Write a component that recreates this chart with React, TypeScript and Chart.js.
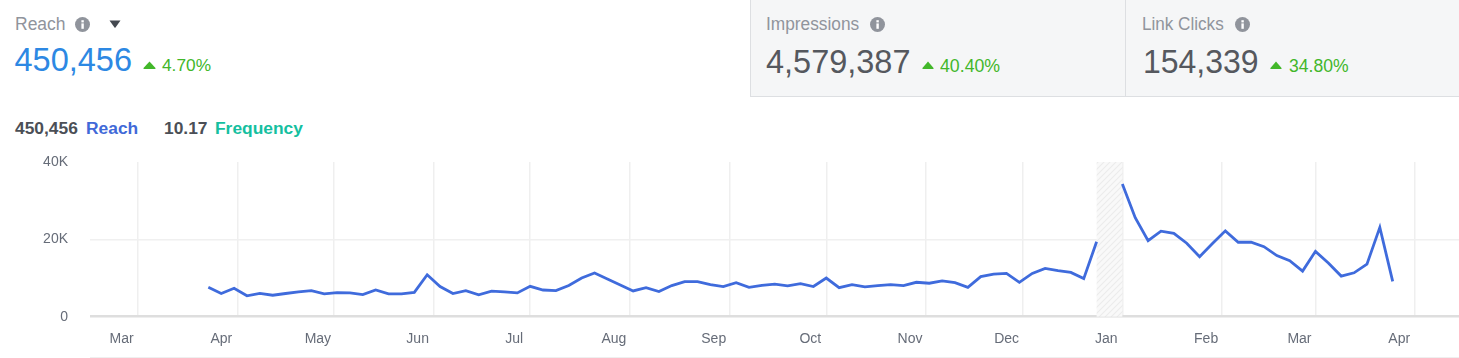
import React, { useEffect, useRef } from "react";
import { Chart, registerables } from "chart.js";

Chart.register(...registerables);

const firstPointDay = 22;
const pointStepDays = 4;
const reachValues: (number | null)[] = [
  7600, 6000, 7350, 5400, 6050, 5550, 6000, 6400, 6750, 5900, 6250, 6150, 5700, 6900, 5900, 5900,
  6300, 10850, 7800, 6000, 6750, 5650, 6600, 6400, 6150, 7850, 6900, 6750, 8050, 10000, 11300, 9750,
  8200, 6650, 7500, 6500, 8050, 9050, 9050, 8300, 7800, 8800, 7600, 8100, 8400, 7950, 8550, 7800,
  10000, 7500, 8300, 7700, 8050, 8300, 8050, 8900, 8650, 9250, 8800, 7600, 10350, 11000, 11200, 8900,
  11200, 12500, 11900, 11450, 9850, 19400, null, 34300, 25600, 19650, 22100, 21550, 19000, 15500, 18900, 22200,
  19250, 19250, 18100, 15800, 14500, 11800, 16900, 13900, 10500, 11350, 13600, 23100, 9150,
];
const monthDays = [0, 31, 61, 92, 122, 153, 184, 214, 245, 275, 306, 337, 366, 397];
const monthLabels = ["Mar", "Apr", "May", "Jun", "Jul", "Aug", "Sep", "Oct", "Nov", "Dec", "Jan", "Feb", "Mar", "Apr"];
const yTicks = [0, 20000, 40000];
const hatchRange = [298, 306];

const sans = '"Liberation Sans", Arial, sans-serif';

const hatchPlugin = {
  id: "hatchBand",
  beforeDatasetsDraw(chart: any) {
    const { ctx, scales, chartArea } = chart;
    const x0 = scales.x.getPixelForValue(hatchRange[0]);
    const x1 = scales.x.getPixelForValue(hatchRange[1]);
    const p = document.createElement("canvas");
    p.width = 6;
    p.height = 6;
    const c = p.getContext("2d")!;
    c.fillStyle = "#f9f9f9";
    c.fillRect(0, 0, 6, 6);
    c.strokeStyle = "#ececec";
    c.lineWidth = 1.2;
    c.beginPath();
    c.moveTo(-1, 7);
    c.lineTo(7, -1);
    c.moveTo(-1, 1);
    c.lineTo(1, -1);
    c.moveTo(5, 7);
    c.lineTo(7, 5);
    c.stroke();
    ctx.save();
    ctx.fillStyle = ctx.createPattern(p, "repeat");
    ctx.fillRect(x0, chartArea.top, x1 - x0, chartArea.bottom - chartArea.top);
    ctx.restore();
  },
};

function Info({ x, y }: { x: number; y: number }) {
  return (
    <svg width="15" height="15" viewBox="0 0 15 15" style={{ position: "absolute", left: x, top: y }}>
      <circle cx="7.5" cy="7.5" r="7.5" fill="#90949c" />
      <rect x="6.4" y="6.4" width="2.4" height="5.4" fill="#fff" />
      <rect x="6.4" y="3.2" width="2.4" height="2.2" fill="#fff" />
    </svg>
  );
}

function Up({ x, y, w = 13 }: { x: number; y: number; w?: number }) {
  return (
    <svg width={w} height="8" viewBox="0 0 13 8" preserveAspectRatio="none" style={{ position: "absolute", left: x, top: y }}>
      <path d="M6.5 0.5 L12.5 7 Q12.8 8 12 8 L1 8 Q0.2 8 0.5 7 Z" fill="#42b72a" />
    </svg>
  );
}

function T(props: { x: number; y: number; size: number; color: string; bold?: boolean; sx?: number; children: React.ReactNode }) {
  const { x, y, size, color, bold, sx = 1, children } = props;
  return (
    <div
      style={{
        position: "absolute",
        left: x,
        top: y,
        fontFamily: sans,
        fontSize: size,
        lineHeight: "1",
        color,
        fontWeight: bold ? 700 : 400,
        whiteSpace: "nowrap",
        transform: `scaleX(${sx})`,
        transformOrigin: "left top",
      }}
    >
      {children}
    </div>
  );
}

export default function App() {
  const ref = useRef<HTMLCanvasElement>(null);

  useEffect(() => {
    document.body.style.margin = "0";
    const chart = new Chart(ref.current!, {
      type: "line",
      data: {
        datasets: [
          {
            label: "Reach",
            data: reachValues.map((v, i) => ({ x: firstPointDay + i * pointStepDays, y: v })) as any,
            borderColor: "#3f6bdc",
            borderWidth: 2.8,
            pointRadius: 0,
            tension: 0,
            spanGaps: false,
          },
        ],
      },
      options: {
        animation: false,
        responsive: false,
        maintainAspectRatio: false,
        layout: { padding: { top: 12, left: 0, right: 0, bottom: 0 } },
        plugins: { legend: { display: false }, tooltip: { enabled: false } },
        scales: {
          x: {
            type: "linear",
            min: -14.77,
            max: 410.6,
            afterBuildTicks(scale: any) {
              scale.ticks = monthDays.map((value) => ({ value }));
            },
            afterFit(scale: any) {
              scale.height = 41.3;
              scale.paddingLeft = 0;
              scale.paddingRight = 0;
            },
            grid: { color: "#efefef", lineWidth: 1.5, drawTicks: false },
            border: { display: false },
            ticks: {
              autoSkip: false,
              maxRotation: 0,
              padding: 14,
              labelOffset: -16,
              color: "#666c78",
              font: { family: sans, size: 14 },
              callback: (_v: any, i: number) => monthLabels[i],
            },
          },
          y: {
            type: "linear",
            min: yTicks[0],
            max: yTicks[2],
            afterBuildTicks(scale: any) {
              scale.ticks = yTicks.map((value) => ({ value }));
            },
            afterFit(scale: any) {
              scale.width = 90;
              scale.paddingTop = 0;
              scale.paddingBottom = 0;
            },
            grid: {
              color: (c: any) => (c.tick.value === 0 ? "#dedede" : c.tick.value === 40000 ? "rgba(0,0,0,0)" : "#f0f0f0"),
              lineWidth: (c: any) => (c.tick.value === 0 ? 2.5 : 1.5),
              drawTicks: false,
            },
            border: { display: false },
            ticks: {
              padding: 22,
              color: "#666c78",
              font: { family: sans, size: 14 },
              callback: (v: any) => (v === 0 ? "0" : `${v / 1000}K`),
            },
          },
        },
      },
      plugins: [hatchPlugin],
    } as any);
    return () => chart.destroy();
  }, []);

  return (
    <div style={{ position: "absolute", left: 0, top: 0, width: 1459, height: 358, overflow: "hidden", background: "#fff" }}>
      <div style={{ position: "absolute", left: 750, top: 0, width: 709, height: 97, background: "#f5f6f7", borderLeft: "1px solid #dddfe2", borderBottom: "1px solid #dddfe2", boxSizing: "border-box" }} />
      <div style={{ position: "absolute", left: 1125, top: 0, width: 1, height: 97, background: "#dddfe2" }} />

      <T x={15} y={16} size={17.5} color="#90949c">Reach</T>
      <Info x={75} y={17} />
      <svg width="12" height="8" style={{ position: "absolute", left: 109, top: 20 }}>
        <path d="M0.5 0.5 H11.5 L6.5 7.5 Q6 8 5.5 7.5 Z" fill="#444950" />
      </svg>
      <T x={14.5} y={44} size={32.5} color="#2d88e3">450,456</T>
      <Up x={143} y={61} />
      <T x={162} y={57} size={17.3} color="#42b72a">4.70%</T>

      <T x={766} y={15} size={18} sx={0.96} color="#90949c">Impressions</T>
      <Info x={870} y={17} />
      <T x={765.5} y={44} size={34} sx={0.955} color="#55585e">4,579,387</T>
      <Up x={922} y={61} w={12} />
      <T x={940} y={57} size={18} sx={0.985} color="#42b72a">40.40%</T>

      <T x={1142} y={15} size={18} sx={0.95} color="#90949c">Link Clicks</T>
      <Info x={1235} y={17} />
      <T x={1142.5} y={44} size={34} sx={0.94} color="#55585e">154,339</T>
      <Up x={1270} y={61} w={12} />
      <T x={1289} y={57} size={18} sx={0.975} color="#42b72a">34.80%</T>

      <T x={15} y={120} size={17.4} bold color="#4b4f56">450,456</T>
      <T x={86} y={120} size={17.4} bold color="#4169d8">Reach</T>
      <T x={164} y={120} size={17.4} bold color="#4b4f56">10.17</T>
      <T x={215} y={120} size={17.4} bold color="#15bfa0">Frequency</T>

      <canvas ref={ref} width={1459} height={208} style={{ position: "absolute", left: 0, top: 150, width: 1459, height: 208 }} />
      <div style={{ position: "absolute", left: 90, top: 356.5, width: 1369, height: 1, background: "#efefef" }} />
    </div>
  );
}
